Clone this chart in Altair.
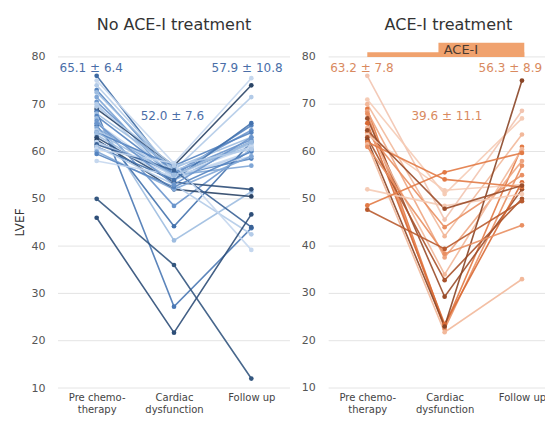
import altair as alt
import pandas as pd

# ---------------- data ----------------
stage_names = ["Pre chemo-therapy", "Cardiac dysfunction", "Follow up"]

pre_noace = [76, 75, 74, 73, 72.5, 71.5, 70.5, 70, 69, 68.5, 68, 67.5, 67, 66.5, 66, 65.5, 65, 64.5,
             64, 63.5, 63, 62.5, 62, 62, 61.5, 61, 61, 60.5, 60, 59.5, 58, 50, 46, 64, 66, 69.5]
card_noace = [55, 57.5, 56, 55, 56, 54, 55.5, 54, 57, 27.2, 56.5, 55, 41.2, 48.5, 54.5, 44.2, 55, 56,
              57, 54, 53.5, 52, 55.5, 55, 56, 54, 53, 57.5, 52, 52.5, 55, 36, 21.7, 55, 53, 57]
fol_noace = [62, 75.5, 71.5, 65.5, 61, 62, 64.5, 60, 74, 43.8, 63, 58.5, 51.5, 60.5, 60, 62, 57, 61.5,
             64, 62, 52, 50.5, 62.5, 59, 44, 66, 42.5, 39.2, 59, 60, 61, 12, 46.7, 62, 63, 60.5]

pre_ace = [76, 71, 70, 69, 68.5, 68, 67, 66, 65, 64, 63.5, 63, 62.5, 62, 61.5, 61, 52, 48.6, 47.7, 64.5]
card_ace = [45.6, 51.0, 42.1, 23.0, 37.6, 22.5, 29.3, 23.5, 34.0, 44.0, 51.8, 32.8, 23.0, 54.1, 21.8,
            38.4, 48.5, 55.6, 39.4, 47.9]
fol_ace = [68.6, 67, 63.6, 61, 58, 57, 52, 53.5, 60.5, 55, 53, 50, 75, 52.5, 33, 44.4, 51, 59.7, 49.5, 52.8]

panel_titles = ["No ACE-I treatment", "ACE-I treatment"]
ann_noace = ["65.1 ± 6.4", "52.0 ± 7.6", "57.9 ± 10.8"]
ann_ace = ["63.2 ± 7.8", "39.6 ± 11.1", "56.3 ± 8.9"]
ann_noace_at = [-0.07, 0.98, 1.945]     # stage position of each summary text
ann_ace_at = [-0.07, 1.03, 1.85]
ann_levels = [77.65, 67.5, 77.65]       # LVEF level at which each summary is printed
title_at = [1.0, 1.05]
title_level = 86.7

# ACE-I treatment period marker (stage units of the right panel, LVEF units)
ace_band = {"from": 0.0, "to": 2.03, "low": 80, "high": 81}
ace_box = {"from": 0.92, "to": 2.03, "low": 80, "high": 83}
ace_label = "ACE-I"
ace_label_at = (1.21, 81.5)

y_ticks = [10, 20, 30, 40, 50, 60, 70, 80]

# ---------------- styles / layout ----------------
blue_palette = ["#3d6aa3", "#c5d7ee", "#b3cbe8", "#5584c0", "#9dbce0", "#7fa6d6", "#6a95cc", "#b3cbe8",
                "#2a4466", "#4a78b4", "#9dbce0", "#5584c0", "#9dbce0", "#6a95cc", "#c5d7ee", "#4472ad",
                "#7fa6d6", "#b3cbe8", "#5584c0", "#9dbce0", "#2e4e78", "#2a4466", "#6a95cc", "#c5d7ee",
                "#3a6296", "#4472ad", "#b3cbe8", "#c5d7ee", "#7fa6d6", "#5584c0", "#c5d7ee", "#34577f",
                "#2e4e78", "#9dbce0", "#6a95cc", "#b3cbe8"]
orange_palette = ["#f2c4b0", "#f5cbb5", "#f2b89a", "#e27a45", "#eea581", "#e98f62", "#9a4d2a", "#d96a35",
                  "#f2b89a", "#e98f62", "#f5cbb5", "#a8522b", "#8a4526", "#e27a45", "#f2b89a", "#e98f62",
                  "#f5cbb5", "#e27a45", "#b85a2e", "#9a4d2a"]
FONT = "DejaVu Sans"
OFFSET = 3.5            # the right panel starts 3.5 stage-units after the left one
LEFT_SPAN = (-0.5, 2.5)
RIGHT_SPAN = (3.0, 6.0)
X_DOMAIN = [-0.5, 5.798]
Y_DOMAIN = [10, 84]

# ---------------- tables ----------------
rows = []
for i, vals in enumerate(zip(pre_noace, card_noace, fol_noace)):
    for s, v in enumerate(vals):
        rows.append({"id": f"a{i:02d}", "x": s, "LVEF": v})
for i, vals in enumerate(zip(pre_ace, card_ace, fol_ace)):
    for s, v in enumerate(vals):
        rows.append({"id": f"b{i:02d}", "x": s + OFFSET, "LVEF": v})
df = pd.DataFrame(rows)
ids = sorted(df["id"].unique())

grid = pd.DataFrame(
    [{"x": LEFT_SPAN[0], "x2": LEFT_SPAN[1], "y": t} for t in y_ticks]
    + [{"x": RIGHT_SPAN[0], "x2": RIGHT_SPAN[1], "y": t} for t in y_ticks]
)
right_labels = pd.DataFrame({"x": [RIGHT_SPAN[0]] * len(y_ticks), "y": y_ticks,
                             "t": [str(t) for t in y_ticks]})
ann = pd.DataFrame({
    "x": ann_noace_at + [a + OFFSET for a in ann_ace_at],
    "y": ann_levels + ann_levels,
    "t": ann_noace + ann_ace,
    "g": ["no"] * 3 + ["ace"] * 3,
})
titles = pd.DataFrame({"x": [title_at[0], title_at[1] + OFFSET], "y": [title_level] * 2, "t": panel_titles})
marker = pd.DataFrame({
    "x": [ace_band["from"] + OFFSET, ace_box["from"] + OFFSET],
    "x2": [ace_band["to"] + OFFSET, ace_box["to"] + OFFSET],
    "y": [ace_band["low"], ace_box["low"]],
    "y2": [ace_band["high"], ace_box["high"]],
})
marker_text = pd.DataFrame({"x": [ace_label_at[0] + OFFSET], "y": [ace_label_at[1]], "t": [ace_label]})

# ---------------- encodings ----------------
label_expr = ("indexof([0, 3.5], datum.value) >= 0 ? ['Pre chemo-', 'therapy'] : "
              "indexof([1, 4.5], datum.value) >= 0 ? ['Cardiac', 'dysfunction'] : 'Follow up'")
xs = alt.Scale(domain=X_DOMAIN, nice=False, zero=False)
ys = alt.Scale(domain=Y_DOMAIN, nice=False, zero=False)

x_axis = alt.Axis(values=[0, 1, 2, OFFSET, OFFSET + 1, OFFSET + 2], labelExpr=label_expr, grid=False,
                  domain=False, ticks=False, title=None, labelPadding=4, labelFontSize=10,
                  labelColor="#444", labelFont=FONT, labelLineHeight=12, labelFlush=False,
                  labelOverlap=False)
y_axis = alt.Axis(values=y_ticks, grid=False, domain=False, ticks=False, labelPadding=13,
                  labelFontSize=11, labelColor="#555", labelFont=FONT, title="LVEF", titleFont=FONT,
                  titleFontSize=12, titleFontWeight="normal", titleColor="#333", titlePadding=5,
                  titleY=184)

gridlines = alt.Chart(grid).mark_rule(color="#e4e4e4", strokeWidth=1).encode(
    x=alt.X("x:Q", scale=xs, axis=x_axis), x2="x2:Q",
    y=alt.Y("y:Q", scale=ys, axis=y_axis),
)

rlabels = alt.Chart(right_labels).mark_text(font=FONT, fontSize=11, color="#555", align="right",
                                            baseline="middle", dx=-13).encode(
    x="x:Q", y="y:Q", text="t:N")

lines = alt.Chart(df).mark_line(
    point=alt.OverlayMarkDef(filled=True, size=22, opacity=1), strokeWidth=1.6, opacity=0.9
).encode(
    x="x:Q", y="LVEF:Q",
    color=alt.Color("id:N", scale=alt.Scale(domain=ids, range=blue_palette + orange_palette), legend=None),
    detail="id:N",
)

ann_text = alt.Chart(ann).mark_text(font=FONT, fontSize=12, baseline="middle").encode(
    x="x:Q", y="y:Q", text="t:N",
    fill=alt.Fill("g:N", scale=alt.Scale(domain=["no", "ace"], range=["#4a6ea8", "#d98a5f"]), legend=None),
)

title_text = alt.Chart(titles).mark_text(font=FONT, fontSize=16, color="#333", baseline="middle").encode(
    x="x:Q", y="y:Q", text="t:N")

marker_rect = alt.Chart(marker).mark_rect(color="#f0a26e").encode(x="x:Q", x2="x2:Q", y="y:Q", y2="y2:Q")
marker_lbl = alt.Chart(marker_text).mark_text(font=FONT, fontSize=13, color="#4a3a30",
                                              baseline="middle").encode(x="x:Q", y="y:Q", text="t:N")

chart = alt.layer(
    gridlines, rlabels, marker_rect, marker_lbl, lines, ann_text, title_text
).resolve_scale(color="independent").properties(
    width=487, height=350,
    autosize=alt.AutoSizeParams(type="none"),
    padding={"left": 50, "top": 30, "right": 0, "bottom": 28},
).configure_view(stroke=None)

chart.save("out.html", embed_options={"renderer": "svg", "actions": False})
